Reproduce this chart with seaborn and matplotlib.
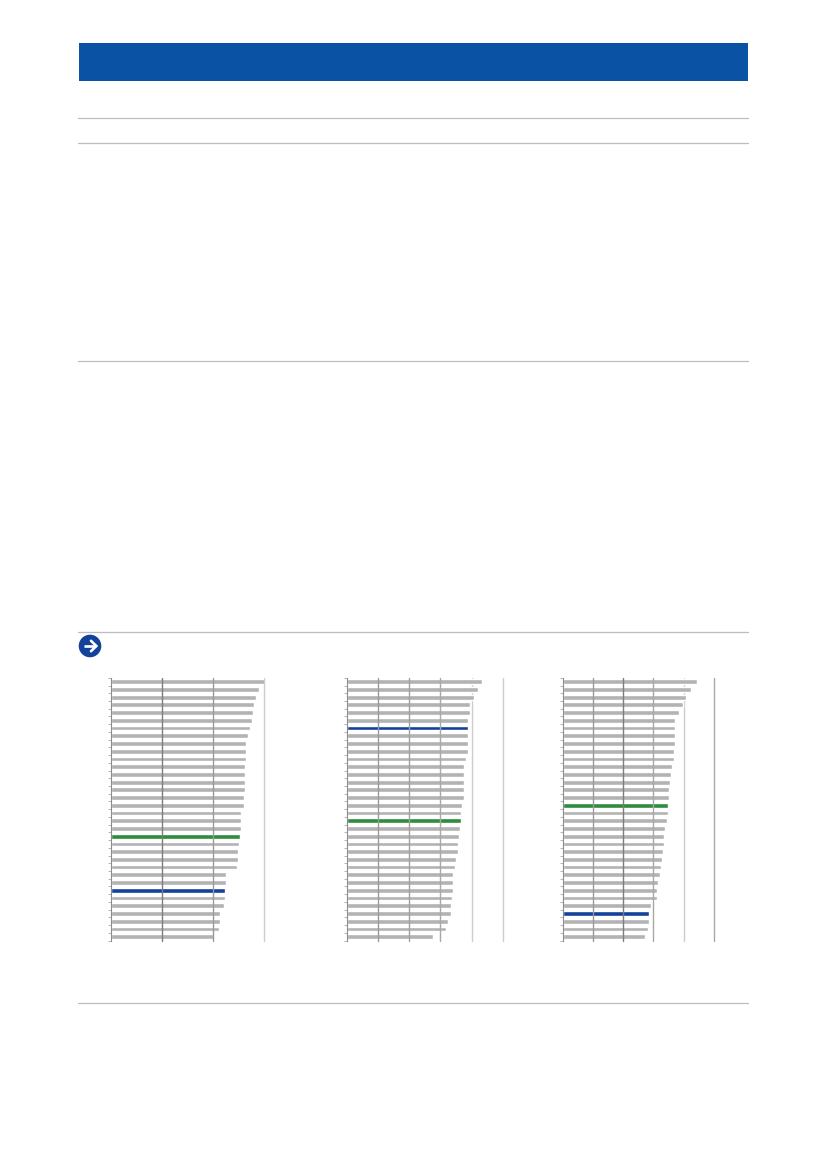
import matplotlib
matplotlib.use('Agg')
import matplotlib.pyplot as plt
from matplotlib.patches import Circle, Rectangle
from matplotlib.lines import Line2D
import numpy as np
import pandas as pd
import seaborn as sns

# --- data (no axis text is visible in the reference) ---
values_left = [30.2, 28.9, 28.4, 28.0, 27.9, 27.6, 27.2, 26.8, 26.5, 26.5, 26.4, 26.3,
               26.2, 26.2, 26.2, 26.0, 26.0, 25.4, 25.4, 25.4, 25.3, 25.0, 24.9, 24.8,
               24.6, 22.6, 22.5, 22.4, 22.3, 22.2, 21.3, 21.3, 21.1, 20.2]
values_mid = [43.3, 41.9, 40.7, 39.6, 39.4, 39.0, 39.0, 38.9, 38.9, 38.7, 38.1, 37.7,
              37.7, 37.7, 37.6, 37.6, 36.8, 36.6, 36.5, 36.3, 36.1, 35.6, 35.5, 35.1,
              34.8, 33.9, 33.9, 33.9, 33.7, 33.5, 33.3, 32.5, 31.8, 27.6]
values_right = [44.5, 42.5, 40.9, 39.8, 38.4, 37.2, 37.1, 37.1, 37.1, 37.0, 36.7, 36.3,
                35.7, 35.5, 35.2, 35.2, 34.7, 34.7, 34.6, 34.0, 33.7, 33.5, 33.3, 32.9,
                32.6, 32.2, 31.5, 31.3, 31.2, 29.4, 28.7, 28.5, 28.4, 27.4]
ticks_left = [0, 10, 20, 30]
ticks_mid = [0, 10, 20, 30, 40, 50]
ticks_right = [0, 10, 20, 30, 40, 50]
blue_rank = [27, 6, 30]
green_rank = [20, 18, 16]

# gridline greys differ per panel in the reference
grid_left = ['#7d7d7d', '#9a9a9a', '#cccccc']
grid_mid = ['#9a9a9a', '#a0a0a0', '#a8a8a8', '#cccccc', '#cccccc']
grid_right = ['#9a9a9a', '#7d7d7d', '#a8a8a8', '#cccccc', '#a8a8a8']

GREY = '#b3b3b3'
BLUE = '#12429a'
GREEN = '#2f8c3c'
W, H = 826, 1169

sns.set_theme(style='white')
fig = plt.figure(figsize=(W / 100, H / 100), dpi=100, facecolor='white')


def px_axes(x0, x1, y0, y1):
    return fig.add_axes([x0 / W, 1 - y1 / H, (x1 - x0) / W, (y1 - y0) / H])


# --- page furniture ---
fig.add_artist(Rectangle((79 / W, 1 - 81 / H), 669 / W, 38 / H, transform=fig.transFigure,
                         facecolor='#0a52a3', edgecolor='none'))
for y in [118.5, 143.5, 361.5, 632.5, 1003.5]:
    fig.add_artist(Line2D([78 / W, 748 / W], [1 - (y - 1) / H, 1 - (y - 1) / H],
                          transform=fig.transFigure, color='#bdbdbd', lw=0.9))

# arrow badge
badge = px_axes(76, 104, 632, 660)
badge.set_xlim(0, 28)
badge.set_ylim(28, 0)
badge.axis('off')
badge.add_patch(Circle((14, 14), 11.3, facecolor='#12429a', edgecolor='none'))
badge.plot([7.5, 20], [14, 14], color='white', lw=1.9, solid_capstyle='butt')
badge.plot([15, 20.3, 15], [8.8, 14, 19.2], color='white', lw=1.9, solid_joinstyle='miter')

# --- the three bar panels ---
panels = [
    (values_left, ticks_left, grid_left, 110.8, 264.2, 0),
    (values_mid, ticks_mid, grid_mid, 346.8, 502.8, 1),
    (values_right, ticks_right, grid_right, 562.5, 713.8, 2),
]
for vals, ticks, greys, x0, x1, i in panels:
    ax = px_axes(x0, x1, 677.8, 940.5)
    df = pd.DataFrame({'cat': [f'{i}-{n}' for n in range(len(vals))], 'value': vals})
    colours = [GREY] * len(vals)
    colours[blue_rank[i]] = BLUE
    colours[green_rank[i]] = GREEN
    sns.barplot(data=df, x='value', y='cat', hue='cat', palette=colours, legend=False,
                width=0.62, saturation=1, ax=ax, zorder=2)
    ax.set_xlim(ticks[0], ticks[-1])
    ax.set_ylim(len(vals) - 0.5, -0.5)
    ax.set_xticks(ticks)
    ax.set_xticklabels([])
    ax.set_yticks(np.arange(len(vals) + 1) - 0.5)
    ax.set_yticklabels([])
    ax.set_xlabel('')
    ax.set_ylabel('')
    ax.patch.set_alpha(0)
    ax.grid(False)
    for t, c in zip(ticks[1:], greys):
        ax.axvline(t, color=c, lw=1.0, zorder=3 if c != '#cccccc' else 1, clip_on=False)
    ax.tick_params(axis='x', length=0)
    ax.tick_params(axis='y', length=2.2, width=0.6, color='#a8a8a8', left=True, pad=1)
    for s in ['top', 'right', 'bottom']:
        ax.spines[s].set_visible(False)
    ax.spines['left'].set_color('#8c8c8c')
    ax.spines['left'].set_linewidth(0.8)
    ax.spines['left'].set_zorder(4)

fig.savefig('out.png', dpi=100, facecolor='white')
